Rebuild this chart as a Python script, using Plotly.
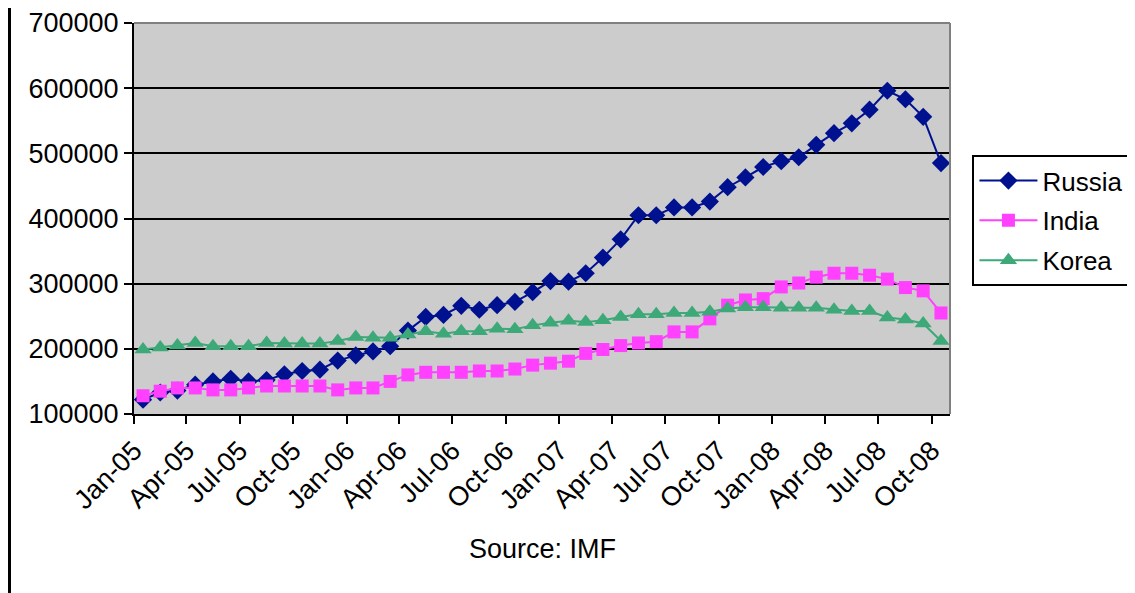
import plotly.graph_objects as go

months = [
    "2005-01", "2005-02", "2005-03", "2005-04", "2005-05", "2005-06",
    "2005-07", "2005-08", "2005-09", "2005-10", "2005-11", "2005-12",
    "2006-01", "2006-02", "2006-03", "2006-04", "2006-05", "2006-06",
    "2006-07", "2006-08", "2006-09", "2006-10", "2006-11", "2006-12",
    "2007-01", "2007-02", "2007-03", "2007-04", "2007-05", "2007-06",
    "2007-07", "2007-08", "2007-09", "2007-10", "2007-11", "2007-12",
    "2008-01", "2008-02", "2008-03", "2008-04", "2008-05", "2008-06",
    "2008-07", "2008-08", "2008-09", "2008-10",
]

russia = [122000, 133000, 136000, 145000, 150000, 154000, 150000, 152000,
          161000, 166000, 168000, 182000, 190000, 196000, 204000, 228000,
          249000, 252000, 266000, 260000, 267000, 272000, 287000, 304000,
          303000, 316000, 340000, 368000, 405000, 405000, 417000, 417000,
          426000, 448000, 463000, 479000, 488000, 494000, 513000, 531000,
          546000, 567000, 596000, 583000, 556000, 485000]

india = [128000, 135000, 140000, 140000, 137000, 137000, 140000, 143000,
         143000, 143000, 143000, 137000, 140000, 140000, 150000, 160000,
         164000, 164000, 164000, 166000, 166000, 169000, 175000, 178000,
         181000, 193000, 199000, 205000, 209000, 211000, 226000, 226000,
         246000, 267000, 275000, 277000, 295000, 301000, 310000, 316000,
         316000, 313000, 307000, 294000, 289000, 255000]

korea = [199000, 202000, 205000, 209000, 204000, 204000, 204000, 209000,
         208000, 208000, 208000, 212000, 218000, 217000, 217000, 222000,
         227000, 223000, 227000, 227000, 231000, 230000, 236000, 240000,
         243000, 241000, 244000, 249000, 253000, 253000, 255000, 255000,
         257000, 262000, 264000, 264000, 263000, 263000, 263000, 260000,
         258000, 258000, 248000, 245000, 239000, 212000]

FONT = "Liberation Sans, Arial, sans-serif"

series = [
    ("Russia", russia, "#001190", "diamond", 14),
    ("India", india, "#FF40FF", "square", 13),
    ("Korea", korea, "#3DA878", "triangle-up", 15),
]

fig = go.Figure()
for name, vals, col, sym, size in series:
    fig.add_trace(go.Scatter(
        x=months, y=vals, name=name, mode="lines+markers",
        xperiod="M1", xperiodalignment="middle",
        line=dict(color=col, width=2),
        marker=dict(symbol=sym, size=size, color=col, line=dict(width=0)),
        legendgroup=name,
    ))

# page body has an 8px margin; size the figure so the plot area lands at
# x 134-950, y 23-414 in the browser window
fig.update_layout(
    width=1127, height=585,
    margin=dict(l=126, r=185, t=15, b=179, pad=0, autoexpand=False),
    paper_bgcolor="white",
    plot_bgcolor="#CCCCCC",
    font=dict(family=FONT, size=27, color="black"),
    showlegend=True,
    legend=dict(
        x=1.0275, y=0.662, xanchor="left", yanchor="top",
        bgcolor="white", bordercolor="black", borderwidth=2,
        font=dict(family=FONT, size=26, color="black"),
        itemwidth=58, tracegroupgap=3,
    ),
    xaxis=dict(
        type="date", automargin=False,
        range=["2005-01-01", "2008-11-01"],
        tick0="2005-01-01", dtick="M3", tickformat="%b-%y",
        tickangle=-45,
        showgrid=False, zeroline=False,
        showline=True, linecolor="black", linewidth=2,
        ticks="outside", ticklen=8, tickwidth=2, tickcolor="black",
        tickfont=dict(family=FONT, size=27),
    ),
    yaxis=dict(
        automargin=False,
        range=[100000, 700000], dtick=100000, tickformat="d",
        showgrid=True, gridcolor="black", gridwidth=1.5,
        zeroline=False,
        showline=True, linecolor="black", linewidth=2,
        ticks="outside", ticklen=8, tickwidth=2, tickcolor="black",
        tickfont=dict(family=FONT, size=27),
    ),
    shapes=[
        dict(type="line", xref="paper", yref="paper", x0=0, x1=1, y0=1, y1=1,
             line=dict(color="#808080", width=2), layer="above"),
        dict(type="line", xref="paper", yref="paper", x0=1, x1=1, y0=0, y1=1,
             line=dict(color="#808080", width=2), layer="above"),
        dict(type="line", xref="paper", yref="paper",
             x0=-124.5 / 816, x1=-124.5 / 816, y0=-0.5, y1=1.1,
             line=dict(color="black", width=3), layer="above"),
    ],
    annotations=[
        dict(text="Source: IMF", xref="paper", yref="paper", x=0.501, y=-0.344,
             xanchor="center", yanchor="middle", showarrow=False,
             font=dict(family=FONT, size=27, color="black")),
    ],
)

fig.write_html("out.html")
